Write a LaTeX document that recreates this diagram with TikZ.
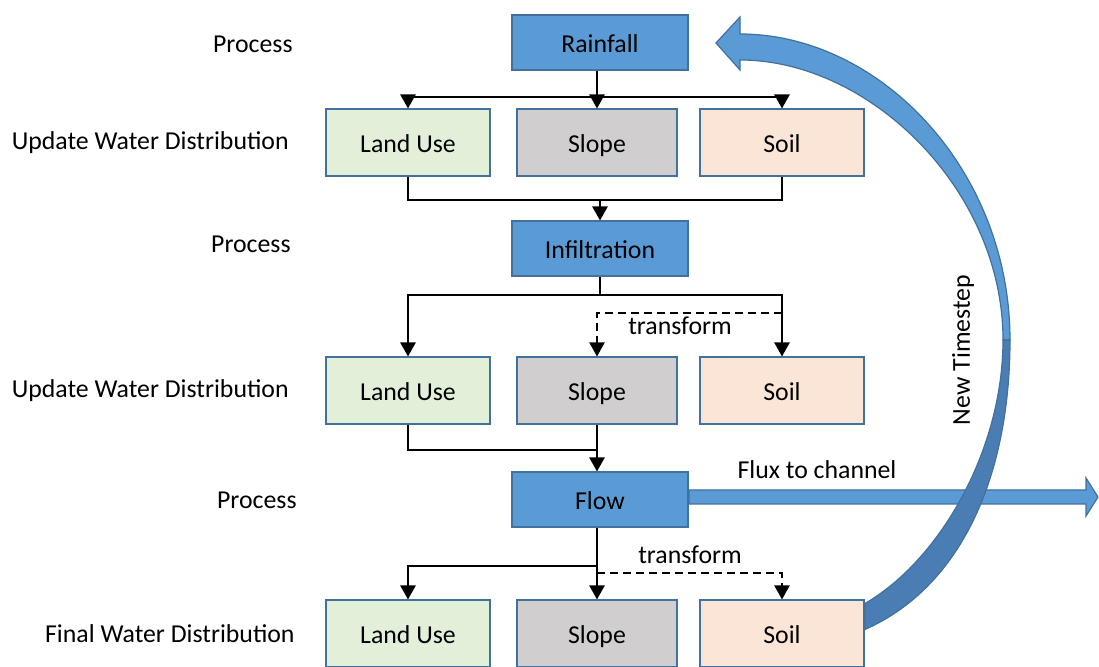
\documentclass[tikz,border=0pt]{standalone}
\usepackage{fontspec}
\setmainfont{Carlito}
\usetikzlibrary{calc,arrows.meta}
\definecolor{procblue}{HTML}{5B9BD5}
\definecolor{edgeblue}{HTML}{41719C}
\definecolor{landfill}{HTML}{E2F0D9}
\definecolor{slopefill}{HTML}{D0CECE}
\definecolor{soilfill}{HTML}{FBE5D6}
\definecolor{banddark}{HTML}{4A7DB4}
\tikzset{
  base/.style={draw=edgeblue,line width=1pt,inner sep=0pt,minimum height=33.5pt,
    text height=2.1ex,text depth=0.1ex},
  proc/.style={base,fill=procblue,minimum width=88pt,minimum height=27.5pt},
  layer/.style={base,minimum width=82pt},
  lab/.style={anchor=east,inner sep=0pt},
  conn/.style={line width=1.25pt},
  arr/.style={conn,-{Triangle[width=7.5pt,length=7pt]}},
  dashconn/.style={line width=1pt,dash pattern=on 4pt off 2.5pt},
  bandpart/.style={draw=edgeblue,line width=0.6pt},
}

\begin{document}
\begin{tikzpicture}[x=0.5pt,y=-0.5pt,font=\fontsize{12.9}{15}\selectfont]
  \fill[white] (0,0) rectangle (1099,667);
  \useasboundingbox (0,0) rectangle (1099,667);

  \node[lab] (p1) at (293,44) {Process};
  \node[lab] (u1) at (289,143) {Update Water Distribution};
  \node[lab] (p2) at (291,244) {Process};
  \node[lab] (u2) at (289,391) {Update Water Distribution};
  \node[lab] (p3) at (297,500) {Process};
  \node[lab] (f1) at (295,634) {Final Water Distribution};

  \node[proc] (rain) at (600,43) {Rainfall};
  \node[proc] (inf) at (600,249) {Infiltration};
  \node[proc] (flow) at (600,500) {Flow};
  \foreach \r/\y in {1/143,2/391,3/634}{
    \node[layer,fill=landfill] (lu\r) at (408,\y) {Land Use};
    \node[layer,fill=slopefill,minimum width=80pt] (sl\r) at (597,\y) {Slope};
    \node[layer,fill=soilfill] (so\r) at (782,\y) {Soil};
  }

  \coordinate (j1) at (597,97);
  \draw[conn] (rain.south -| j1) -- (j1);
  \draw[arr] (j1) -- (sl1.north);
  \draw[arr] (j1) -| (lu1.north);
  \draw[arr] (j1) -| (so1.north);

  \coordinate (j2) at (600,200);
  \draw[conn] (lu1.south) |- (j2) -| (so1.south);
  \draw[arr] (j2) -- (inf.north);

  \coordinate (j3) at (600,295);
  \draw[conn] (inf.south) -- (j3);
  \draw[arr] (j3) -| (lu2.north);
  \draw[arr] (j3) -| (so2.north);
  \coordinate (t1) at (782,313);
  \draw[arr,dashconn] (t1) -| (sl2.north);
  \node (tr1) at (680,326) {transform};

  \coordinate (j4) at (597,450);
  \draw[conn] (lu2.south) |- (j4);
  \draw[conn] (sl2.south) -- (j4);
  \draw[arr] (j4) -- (flow.north -| j4);

  \coordinate (j5) at (597,566);
  \draw[conn] (flow.south -| j5) -- (j5);
  \draw[arr] (j5) -- (sl3.north);
  \draw[arr] (j5) -| (lu3.north);
  \coordinate (t2) at (597,573);
  \draw[arr,dashconn] (t2) -| (so3.north);
  \node (tr2) at (690,555) {transform};

  \draw[edgeblue,fill=procblue,line width=0.6pt] (flow.east |- 0,490) -- (1086,490) -- (1086,478)
    -- (1098,497) -- (1086,516) -- (1086,504) -- (flow.east |- 0,504) -- cycle;
  \node (flux) at (817,470) {Flux to channel};

  \fill[procblue,bandpart] (740,34) .. controls (880,34) and (1010,170) .. (1010,340)
    -- (1003,340) .. controls (1003,190) and (870,60) .. (740,60)
    -- (740,70) -- (716,43) -- (740,17) -- cycle;
  \fill[banddark,bandpart] (1010,340) .. controls (1010,470) and (965,585) .. ($(so3.north east)+(0,30)$)
    -- ($(so3.north east)+(0,4)$) .. controls (940,560) and (1003,450) .. (1003,340) -- cycle;
  \node[rotate=90] (ts) at (963,350) {New Timestep};
\end{tikzpicture}
\end{document}
